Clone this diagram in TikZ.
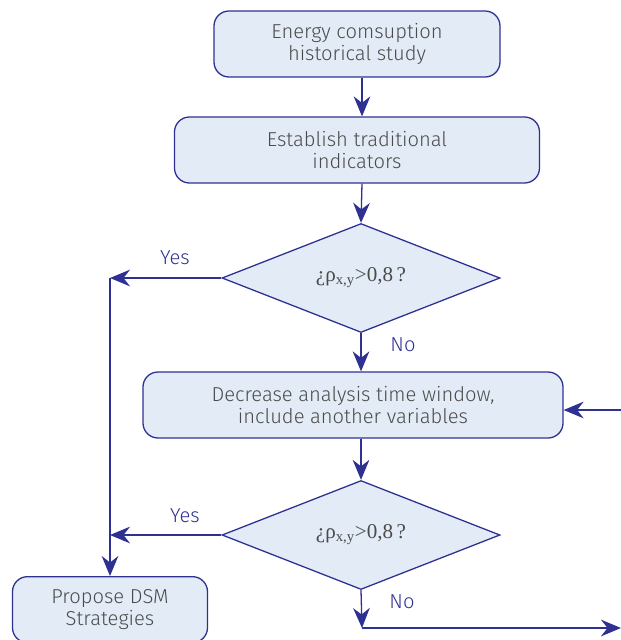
\documentclass[tikz,border=0pt]{standalone}
\usepackage{fontspec}
\setsansfont{Fira Sans}[UprightFont=* Light]
\newfontfamily\rhofont{Liberation Serif}
\usepackage{xcolor}
\usepackage{tikz}
\usetikzlibrary{arrows.meta, shapes.geometric}
\definecolor{flowline}{RGB}{46,49,146}
\definecolor{flowfill}{RGB}{227,236,246}
\definecolor{flowtext}{RGB}{75,75,75}
\tikzset{
  procbox/.style={draw=flowline, fill=flowfill, rounded corners=0.45cm, line width=1.1pt,
    text=flowtext, align=center, font=\sffamily\fontsize{17.2}{18.5}\selectfont, inner sep=0pt},
  decision/.style={diamond, draw=flowline, fill=flowfill, line width=1.1pt, aspect=2.55,
    text=flowtext, inner sep=0pt, minimum width=8.34cm, minimum height=3.27cm,
    font=\rhofont\fontsize{18}{20}\selectfont},
  flow/.style={draw=flowline, line width=1.1pt, -{Stealth[length=0.6cm, width=0.5cm]}},
  answer/.style={text=flowline, font=\sffamily\fontsize{17.2}{18.5}\selectfont}
}
\def\px{0.03}

\begin{document}
\begin{tikzpicture}[x=\px cm, y=-\px cm]
  \useasboundingbox (0,0) rectangle (621,640);
  % boxes
  \node[procbox, minimum width=8.58cm, minimum height=1.98cm] (study) at (357,44) {Energy comsuption\\historical study};
  \node[procbox, minimum width=10.95cm, minimum height=1.98cm] (indic) at (357,150) {Establish traditional\\indicators};
  \node[decision] (testa) at (361,278) {¿ρ\textsubscript{x,y}>0,8\,?};
  \node[procbox, minimum width=12.6cm, minimum height=1.98cm] (window) at (353,405) {Decrease analysis time window,\\include another variables};
  \node[decision] (testb) at (361,535) {¿ρ\textsubscript{x,y}>0,8\,?};
  \node[procbox, minimum width=5.85cm, minimum height=1.98cm, anchor=north] (dsm) at (110,576) {Propose DSM\\Strategies};

  \coordinate (yesa) at (110,278);
  \coordinate (yesb) at (110,535);
  \coordinate (back) at (621,410);
  \coordinate (noend) at (362,628);
  \coordinate (out) at (621,628);

  % connectors
  \draw[flow] (study.south -| 362,0) -- (indic.north -| 362,0);
  \draw[flow] (indic.south -| 362,0) -- (testa.north);
  \draw[flow] (testa.west) -- (yesa);
  \draw[flow] (yesa) -- (dsm.north);
  \draw[flow] (testa.south) -- (window.north -| testa.south);
  \draw[flow] (back) -- (window.east |- back);
  \draw[flow] (window.south -| testb.north) -- (testb.north);
  \draw[flow] (testb.west) -- (yesb);
  \draw[flow] (testb.south) -- (noend);
  \draw[flow] (noend) -- (out);

  \node[answer] at (175,258) {Yes};
  \node[answer] at (403,345) {No};
  \node[answer] at (185,516) {Yes};
  \node[answer] at (402,602) {No};

\end{tikzpicture}
\end{document}
